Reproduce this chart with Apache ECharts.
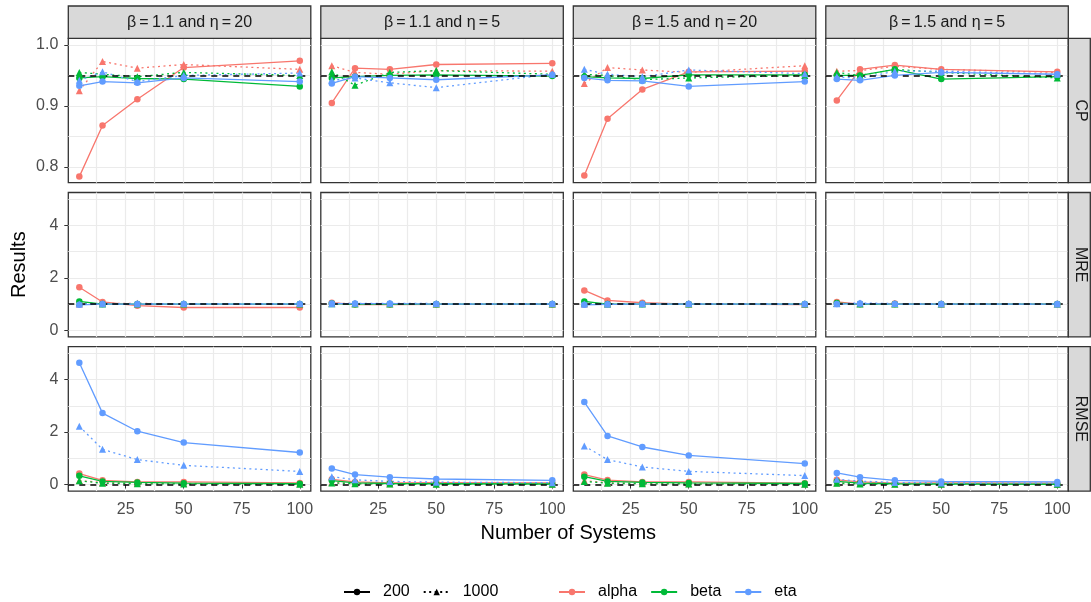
<!DOCTYPE html>
<html>
<head>
<meta charset="utf-8">
<script src="https://cdn.jsdelivr.net/npm/echarts@6/dist/echarts.min.js"></script>
<style>
  html, body { margin: 0; padding: 0; background: #fff; }
  #chart { width: 1091px; height: 602px; }
</style>
</head>
<body>
<div id="chart"></div>
<script>
// Number of systems on the x axis
const sampleSizes = [5, 15, 30, 50, 100];
const facetTitles = ['β\u2009=\u20091.1 and η\u2009=\u200920', 'β\u2009=\u20091.1 and η\u2009=\u20095',
                     'β\u2009=\u20091.5 and η\u2009=\u200920', 'β\u2009=\u20091.5 and η\u2009=\u20095'];
const measures = ['CP', 'MRE', 'RMSE'];
const refLevels = [0.95, 1, 0];          // dashed reference line per measure
const params = ['alpha', 'beta', 'eta'];
const paramColors = ['#F8766D', '#00BA38', '#619CFF'];
const nLevels = ['200', '1000'];
const xLabelTicks = [25, 50, 75, 100];
const xGridTicks = [12.5, 25, 37.5, 50, 62.5, 75, 87.5, 100];
const cpLabelTicks = [0.8, 0.9, 1.0];
const cpGridTicks = [0.8, 0.85, 0.9, 0.95, 1.0];
const errLabelTicks = [0, 2, 4];
const errGridTicks = [0, 1, 2, 3, 4, 5];

// Rows in each block: alpha-200, alpha-1000, beta-200, beta-1000, eta-200, eta-1000
const cpB11E20 = [
  [0.784, 0.868, 0.911, 0.963, 0.974],
  [0.925, 0.973, 0.962, 0.968, 0.960],
  [0.946, 0.948, 0.945, 0.944, 0.932],
  [0.955, 0.952, 0.948, 0.955, 0.950],
  [0.933, 0.940, 0.938, 0.946, 0.940],
  [0.942, 0.956, 0.940, 0.950, 0.954]
];
const cpB11E5 = [
  [0.905, 0.962, 0.960, 0.968, 0.970],
  [0.966, 0.955, 0.952, 0.958, 0.957],
  [0.946, 0.948, 0.950, 0.951, 0.949],
  [0.956, 0.934, 0.955, 0.958, 0.952],
  [0.937, 0.948, 0.946, 0.943, 0.951],
  [0.942, 0.946, 0.938, 0.930, 0.952]
];
const cpB15E20 = [
  [0.786, 0.879, 0.927, 0.956, 0.957],
  [0.937, 0.963, 0.959, 0.955, 0.966],
  [0.948, 0.946, 0.945, 0.951, 0.951],
  [0.952, 0.950, 0.943, 0.946, 0.950],
  [0.946, 0.942, 0.941, 0.932, 0.940],
  [0.960, 0.952, 0.948, 0.959, 0.953]
];
const cpB15E5 = [
  [0.909, 0.960, 0.967, 0.960, 0.956],
  [0.957, 0.958, 0.965, 0.960, 0.955],
  [0.950, 0.950, 0.960, 0.944, 0.948],
  [0.955, 0.950, 0.960, 0.955, 0.946],
  [0.944, 0.942, 0.950, 0.955, 0.952],
  [0.948, 0.945, 0.957, 0.957, 0.952]
];
const mreB11E20 = [
  [1.64, 1.08, 0.94, 0.87, 0.87],
  [1.00, 1.02, 1.03, 1.00, 0.99],
  [1.10, 1.00, 1.00, 1.00, 1.00],
  [1.05, 1.00, 1.00, 1.00, 1.00],
  [0.97, 1.00, 1.00, 1.00, 1.00],
  [1.00, 1.01, 1.01, 1.02, 1.02]
];
const mreB11E5 = [
  [1.05, 0.98, 0.98, 0.99, 0.99],
  [1.03, 1.02, 1.01, 1.00, 1.00],
  [1.02, 1.00, 1.00, 1.00, 1.00],
  [1.01, 1.00, 1.00, 1.00, 1.00],
  [1.02, 1.02, 1.02, 1.00, 1.00],
  [1.01, 1.03, 1.03, 1.02, 1.02]
];
const mreB15E20 = [
  [1.52, 1.14, 1.05, 1.00, 0.98],
  [1.00, 1.00, 1.02, 1.00, 0.99],
  [1.10, 1.00, 1.00, 1.00, 1.00],
  [1.04, 1.00, 1.00, 1.00, 1.00],
  [0.97, 0.99, 1.00, 1.00, 1.00],
  [1.00, 1.00, 1.01, 1.02, 1.01]
];
const mreB15E5 = [
  [1.08, 1.00, 1.02, 1.00, 1.00],
  [1.03, 1.01, 1.01, 1.00, 1.00],
  [1.04, 1.00, 1.00, 1.00, 1.00],
  [1.02, 1.00, 1.00, 1.00, 1.00],
  [1.00, 1.02, 1.00, 1.00, 1.00],
  [1.01, 1.04, 1.02, 1.01, 1.00]
];
const rmseB11E20 = [
  [0.42, 0.16, 0.10, 0.10, 0.06],
  [0.15, 0.08, 0.05, 0.04, 0.03],
  [0.33, 0.12, 0.08, 0.05, 0.03],
  [0.14, 0.05, 0.03, 0.02, 0.01],
  [4.64, 2.72, 2.03, 1.60, 1.22],
  [2.22, 1.34, 0.95, 0.73, 0.50]
];
const rmseB11E5 = [
  [0.20, 0.10, 0.06, 0.07, 0.06],
  [0.08, 0.04, 0.03, 0.02, 0.01],
  [0.15, 0.06, 0.04, 0.03, 0.02],
  [0.06, 0.03, 0.02, 0.01, 0.01],
  [0.61, 0.38, 0.28, 0.21, 0.16],
  [0.30, 0.18, 0.12, 0.09, 0.07]
];
const rmseB15E20 = [
  [0.38, 0.17, 0.10, 0.10, 0.05],
  [0.15, 0.07, 0.05, 0.03, 0.02],
  [0.30, 0.12, 0.08, 0.06, 0.04],
  [0.12, 0.05, 0.03, 0.02, 0.01],
  [3.14, 1.85, 1.43, 1.11, 0.80],
  [1.47, 0.95, 0.67, 0.50, 0.34]
];
const rmseB15E5 = [
  [0.18, 0.10, 0.05, 0.06, 0.05],
  [0.07, 0.04, 0.02, 0.02, 0.01],
  [0.12, 0.05, 0.03, 0.02, 0.01],
  [0.05, 0.02, 0.01, 0.01, 0.01],
  [0.44, 0.28, 0.16, 0.12, 0.10],
  [0.20, 0.13, 0.08, 0.06, 0.05]
];

const panelData = [
  [cpB11E20, cpB11E5, cpB15E20, cpB15E5],
  [mreB11E20, mreB11E5, mreB15E20, mreB15E5],
  [rmseB11E20, rmseB11E5, rmseB15E20, rmseB15E5]
];

// ---- layout -------------------------------------------------------------
const FONT = 'Liberation Sans, Arial, sans-serif';
const panelLeft0 = 68.3, panelStepX = 252.5, panelW = 242.5;
const panelTop0 = 38.3, panelStepY = 154.2, panelH = 144.4;
const stripTop = 6;
const stripRightW = 22;
const gridColor = '#EBEBEB';
const borderColor = '#333333';

const grids = [], xAxes = [], yAxes = [], xGridAxes = [], yGridAxes = [], series = [];
const graphics = [];

for (let r = 0; r < 3; r++) {
  for (let c = 0; c < 4; c++) {
    const g = r * 4 + c;
    const left = panelLeft0 + c * panelStepX;
    const top = panelTop0 + r * panelStepY;
    grids.push({
      left: left, top: top, width: panelW, height: panelH,
      containLabel: false, outerBoundsMode: 'none',
      show: true, backgroundColor: '#fff', borderColor: borderColor, borderWidth: 1.3
    });
    const yMin = r === 0 ? 0.774 : -0.25;
    const yMax = r === 0 ? 1.011 : 5.25;
    const isBottom = r === 2, isLeft = c === 0;
    // axes carrying ticks and labels
    xAxes.push({
      type: 'value', gridIndex: g, min: 0.25, max: 104.75,
      axisLine: { show: false },
      axisTick: { show: isBottom, customValues: xLabelTicks, length: 4, lineStyle: { color: borderColor, width: 1 } },
      axisLabel: { show: isBottom, customValues: xLabelTicks, color: '#4D4D4D', fontSize: 16, fontFamily: FONT, margin: 10 },
      splitLine: { show: false }
    });
    yAxes.push({
      type: 'value', gridIndex: g, min: yMin, max: yMax,
      axisLine: { show: false },
      axisTick: { show: isLeft, customValues: r === 0 ? cpLabelTicks : errLabelTicks, length: 4, lineStyle: { color: borderColor, width: 1 } },
      axisLabel: {
        show: isLeft, customValues: r === 0 ? cpLabelTicks : errLabelTicks,
        color: '#4D4D4D', fontSize: 16, fontFamily: FONT, margin: 10,
        formatter: v => r === 0 ? v.toFixed(1) : String(v)
      },
      splitLine: { show: false }
    });
    // axes carrying the background grid lines (major + minor)
    xGridAxes.push({
      type: 'value', gridIndex: g, min: 0.25, max: 104.75,
      axisLine: { show: false },
      axisTick: { show: false, customValues: xGridTicks },
      axisLabel: { show: false },
      splitLine: { show: true, lineStyle: { color: gridColor, width: 1.2 } }
    });
    yGridAxes.push({
      type: 'value', gridIndex: g, min: yMin, max: yMax,
      axisLine: { show: false },
      axisTick: { show: false, customValues: r === 0 ? cpGridTicks : errGridTicks },
      axisLabel: { show: false },
      splitLine: { show: true, lineStyle: { color: gridColor, width: 1.2 } }
    });

    const block = panelData[r][c];
    block.forEach((vals, k) => {
      const p = k >> 1, n = k & 1;
      const pts = sampleSizes.map((x, i) => [x, vals[i]]);
      const line = {
        type: 'line', name: params[p] + ' ' + nLevels[n],
        xAxisIndex: g, yAxisIndex: g, data: pts,
        symbol: 'none', silent: true, z: 2, animation: false,
        lineStyle: { color: paramColors[p], width: 1.3, type: n === 0 ? 'solid' : [2, 3.5] }
      };
      if (k === 0) {
        line.markLine = {
          silent: true, symbol: ['none', 'none'], z: 3, animation: false,
          label: { show: false },
          lineStyle: { color: '#000', width: 1.5, type: [6, 5] },
          data: [{ yAxis: refLevels[r] }]
        };
      }
      series.push(line);
      series.push({
        type: 'scatter', name: params[p] + ' ' + nLevels[n],
        xAxisIndex: g, yAxisIndex: g, data: pts, silent: true, z: 4, animation: false,
        symbol: n === 0 ? 'circle' : 'triangle', symbolSize: n === 0 ? 6.5 : 7,
        itemStyle: { color: paramColors[p], opacity: 1 }
      });
    });
  }
}

// legend entries (empty series carry the key styles)
const legendSeries = [
  { type: 'line', name: '200', data: [], symbol: 'circle', itemStyle: { color: '#000' }, lineStyle: { color: '#000', width: 1.3, type: 'solid' } },
  { type: 'line', name: '1000', data: [], symbol: 'triangle', itemStyle: { color: '#000' }, lineStyle: { color: '#000', width: 1.3, type: [2, 3.5] } }
].concat(params.map((p, i) => ({
  type: 'line', name: p, data: [], symbol: 'circle',
  itemStyle: { color: paramColors[i] }, lineStyle: { color: paramColors[i], width: 1.3, type: 'solid' }
})));
legendSeries.forEach(s => { s.xAxisIndex = 0; s.yAxisIndex = 0; });

// facet strips
for (let c = 0; c < 4; c++) {
  const left = panelLeft0 + c * panelStepX;
  graphics.push({
    type: 'rect', silent: true, z: 10,
    shape: { x: left, y: stripTop, width: panelW, height: panelTop0 - stripTop },
    style: { fill: '#D9D9D9', stroke: borderColor, lineWidth: 1.3 }
  });
  graphics.push({
    type: 'text', silent: true, z: 11,
    x: left + panelW / 2, y: (stripTop + panelTop0) / 2,
    style: { text: facetTitles[c], fill: '#1A1A1A', font: '16px ' + FONT, align: 'center', verticalAlign: 'middle' }
  });
}
const stripX = panelLeft0 + 3 * panelStepX + panelW;
for (let r = 0; r < 3; r++) {
  const top = panelTop0 + r * panelStepY;
  graphics.push({
    type: 'rect', silent: true, z: 10,
    shape: { x: stripX, y: top, width: stripRightW, height: panelH },
    style: { fill: '#D9D9D9', stroke: borderColor, lineWidth: 1.3 }
  });
  graphics.push({
    type: 'text', silent: true, z: 11,
    x: stripX + stripRightW / 2 + 1.5, y: top + panelH / 2, rotation: -Math.PI / 2,
    style: { text: measures[r], fill: '#1A1A1A', font: '16px ' + FONT, align: 'center', verticalAlign: 'middle' }
  });
}
// axis titles
graphics.push({
  type: 'text', silent: true, z: 11,
  x: panelLeft0 + (3 * panelStepX + panelW) / 2, y: 533,
  style: { text: 'Number of Systems', fill: '#000', font: '20px ' + FONT, align: 'center', verticalAlign: 'middle' }
});
graphics.push({
  type: 'text', silent: true, z: 11,
  x: 19.5, y: panelTop0 + (2 * panelStepY + panelH) / 2, rotation: Math.PI / 2,
  style: { text: 'Results', fill: '#000', font: '20px ' + FONT, align: 'center', verticalAlign: 'middle' }
});

const legendCommon = {
  orient: 'horizontal', top: 584, itemWidth: 26, itemHeight: 8, itemGap: 13, padding: 0,
  selectedMode: false,
  textStyle: { color: '#000', fontSize: 16, fontFamily: FONT, padding: [0, 0, 0, 8] }
};

const chart = echarts.init(document.getElementById('chart'), null, { renderer: 'canvas' });
chart.setOption({
  animation: false,
  backgroundColor: '#fff',
  grid: grids,
  xAxis: xAxes.concat(xGridAxes),
  yAxis: yAxes.concat(yGridAxes),
  legend: [
    Object.assign({}, legendCommon, { left: 343, data: ['200', '1000'] }),
    Object.assign({}, legendCommon, { left: 558, data: ['alpha', 'beta', 'eta'] })
  ],
  series: series.concat(legendSeries),
  graphic: graphics
});
</script>
</body>
</html>
